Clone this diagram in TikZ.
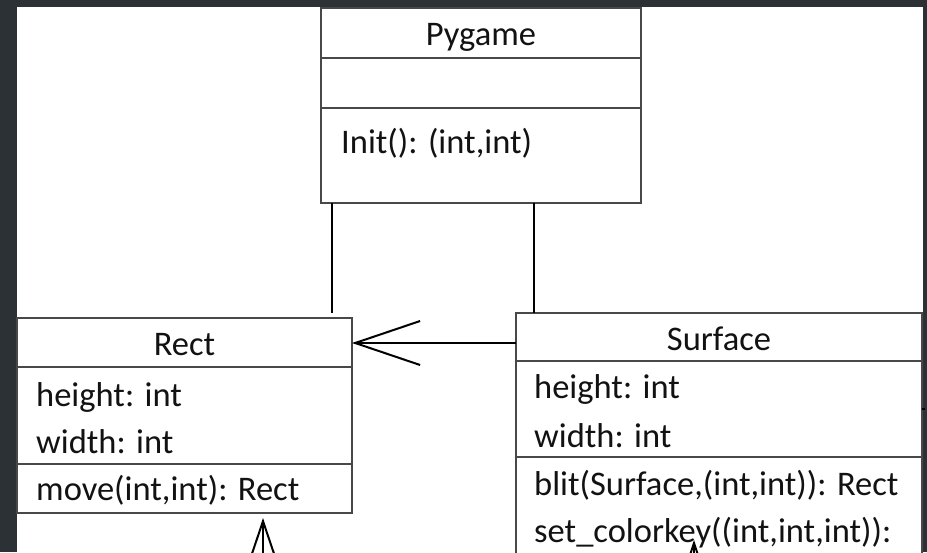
\documentclass[tikz,border=0pt]{standalone}
\usepackage{fontspec}
\setmainfont{Carlito}
\usetikzlibrary{arrows.meta,calc}
\definecolor{frame}{RGB}{43,49,52}
\definecolor{edge}{RGB}{72,72,72}
\definecolor{ink}{RGB}{18,18,18}
\begin{document}
\begin{tikzpicture}[x=1pt,y=-1pt,
  umlbox/.style={draw=edge,line width=1.6pt,fill=white,inner sep=0pt,outer sep=0pt,anchor=north west},
  rule/.style={draw=edge,line width=1.6pt},
  entry/.style={anchor=base west,inner sep=0pt,text=ink,font=\fontsize{34.5}{40}\selectfont},
  heading/.style={anchor=base,inner sep=0pt,text=ink,font=\fontsize{34.5}{40}\selectfont},
  link/.style={draw=black,line width=2pt},
  openhead/.style={-{Straight Barb[length=65pt,width=44pt]}}
]
\useasboundingbox (0,0) rectangle (927,552);
% dark frame around the sheet
\fill[frame] (0,0) rectangle (927,552);
\fill[white] (17,7) rectangle (923,552);

% class boxes
\node[umlbox,minimum width=320pt,minimum height=195pt] (pygame) at (321,8) {};
\node[umlbox,minimum width=335pt,minimum height=195pt] (rect) at (17,318) {};
\node[umlbox,minimum width=406pt,minimum height=300pt] (surface) at (516,313) {};

% compartment dividers
\draw[rule] (pygame.west |- 0,58) -- (pygame.east |- 0,58);
\draw[rule] (pygame.west |- 0,108) -- (pygame.east |- 0,108);
\draw[rule] (rect.west |- 0,367) -- (rect.east |- 0,367);
\draw[rule] (rect.west |- 0,464) -- (rect.east |- 0,464);
\draw[rule] (surface.west |- 0,361) -- (surface.east |- 0,361);
\draw[rule] (surface.west |- 0,457) -- (surface.east |- 0,457);

% Pygame
\node[heading] (pgname) at (pygame.north |- 0,45) {Pygame};
\node[entry] (pginit) at (341,153) {Init(): (int,int)};

% Rect
\node[heading] (rname) at (rect.north |- 0,355) {Rect};
\node[entry] (rh) at (36,406) {height: int};
\node[entry] (rw) at (36,453) {width: int};
\node[entry] (rm) at (36,500) {move(int,int): Rect};

% Surface
\node[heading] (sname) at (surface.north |- 0,350) {Surface};
\node[entry] (sh) at (534,398) {height: int};
\node[entry] (sw) at (534,447) {width: int};
\node[entry] (sb) at (534,495) {blit(Surface,(int,int)): Rect};
\node[entry] (sc) at (534,542) {set\_colorkey((int,int,int)):};

% associations
\draw[link] (pygame.south -| 332,0) -- ++(0,110);
\draw[link] (pygame.south -| 534,0) -- (surface.north -| 534,0);
\draw[link,openhead] (surface.west |- 0,343) -- (rect.east |- 0,343);

% arrows entering from below
\coordinate (lowA) at (263,640);
\draw[link,openhead,shorten >=5pt] (lowA) -- (rect.south -| lowA);
\coordinate (lowB) at (694,640);
\coordinate (tipB) at (694,540);
\draw[link,openhead] (lowB) -- (tipB);

% stub leaving Surface on the right
\draw[link] (surface.east |- 0,409) -- ++(2.5,0);
\end{tikzpicture}
\end{document}
